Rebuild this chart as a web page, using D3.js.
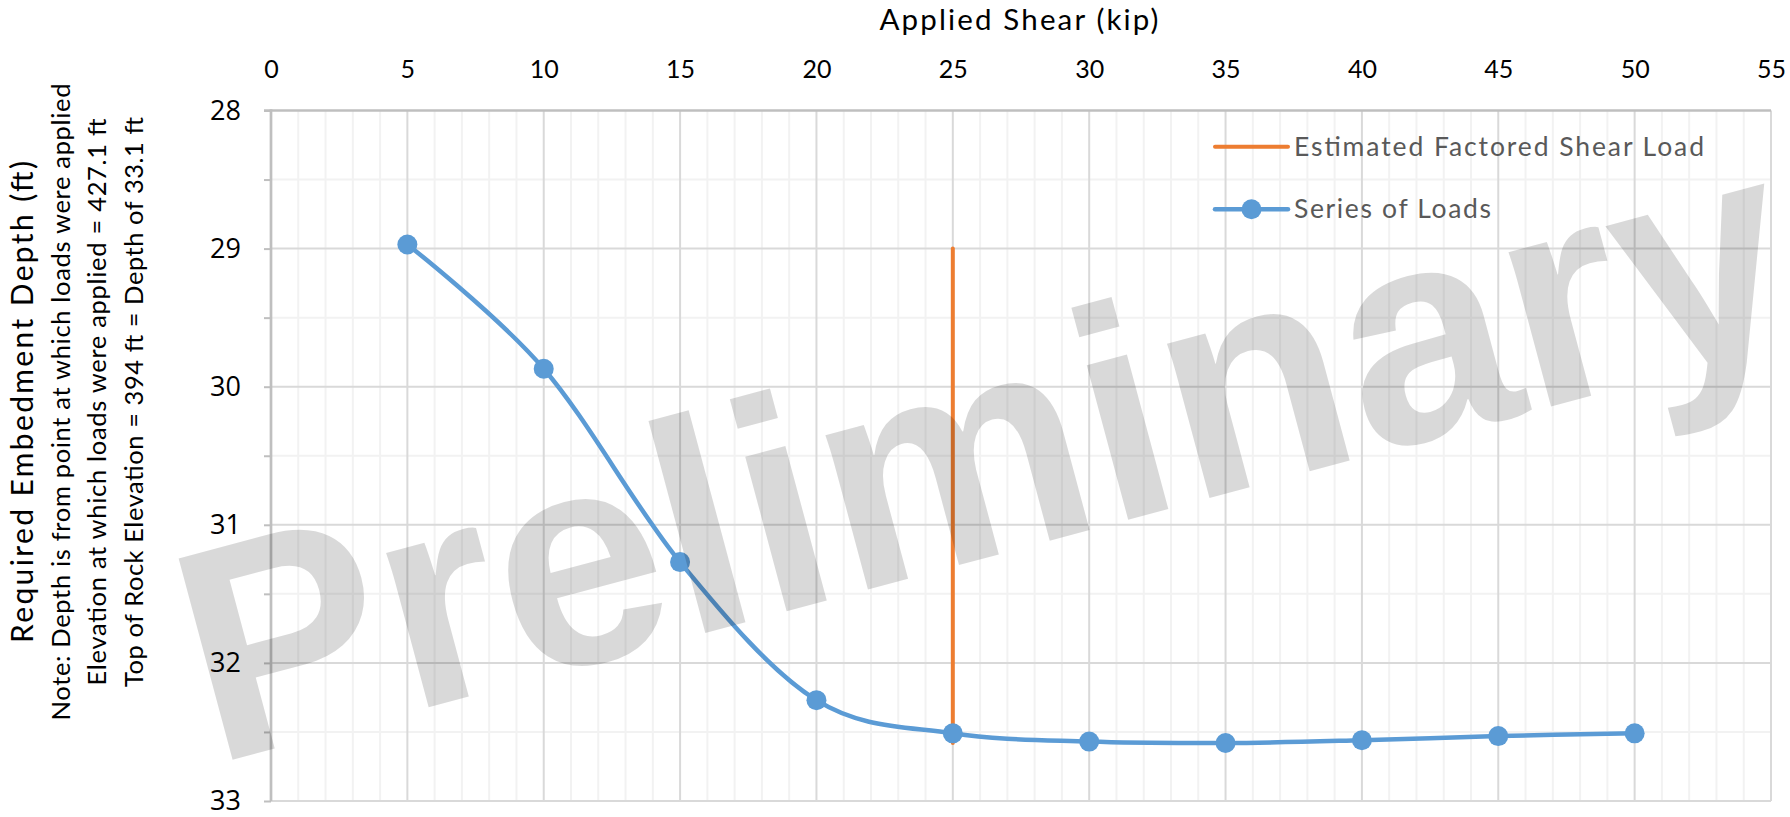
<!DOCTYPE html>
<html>
<head>
<meta charset="utf-8">
<script src="https://cdn.jsdelivr.net/npm/d3@7"></script>
<style>
  html, body { margin: 0; padding: 0; background: #fff; }
  svg { display: block; }
</style>
</head>
<body>
<svg id="chart" width="1790" height="817"></svg>
<script>
// Required embedment depth versus applied shear
const shearKip = [5, 10, 15, 20, 25, 30, 35, 40, 45, 50];
const depthFt = [28.97, 29.87, 31.27, 32.27, 32.51, 32.57, 32.58, 32.56, 32.53, 32.51];

// Estimated factored shear load (vertical reference line)
const factoredShear = [25, 25];
const factoredDepth = [29, 32.58];

const xTickValues = [0, 5, 10, 15, 20, 25, 30, 35, 40, 45, 50, 55];
const yTickValues = [28, 29, 30, 31, 32, 33];

const xTitle = "Applied Shear (kip)";
const yTitle = "Required Embedment Depth (ft)";
const yNotes = [
  "Note: Depth is from point at which loads were applied",
  "Elevation at which loads were applied = 427.1 ft",
  "Top of Rock Elevation = 394 ft = Depth of 33.1 ft"
];
const legendLabels = ["Estimated Factored Shear Load", "Series of Loads"];
const watermarkText = "Preliminary";

const W = 1790, H = 817;
const margin = { top: 110.5, right: 19, bottom: 16, left: 271 };
const blue = "#5b9bd5", orange = "#ed7d31";
const uiFont = "Lato, 'Open Sans', sans-serif";

const svg = d3.select("#chart");
svg.append("rect").attr("width", W).attr("height", H).attr("fill", "#fff");

const x = d3.scaleLinear().domain([0, 55]).range([margin.left, W - margin.right]);
const y = d3.scaleLinear().domain([28, 33]).range([margin.top, H - margin.bottom]);

// Gridlines: light minor lines first, then major lines
const grid = svg.append("g");
const xMinor = d3.range(1, 55).filter(v => v % 5 !== 0);
const yMinor = d3.range(28.5, 33, 1);
grid.selectAll(".vx-minor").data(xMinor).join("line")
  .attr("x1", d => x(d)).attr("x2", d => x(d))
  .attr("y1", y(28)).attr("y2", y(33))
  .attr("stroke", "#f2f2f2").attr("stroke-width", 2);
grid.selectAll(".hy-minor").data(yMinor).join("line")
  .attr("x1", x(0)).attr("x2", x(55))
  .attr("y1", d => y(d)).attr("y2", d => y(d))
  .attr("stroke", "#f2f2f2").attr("stroke-width", 2);
grid.selectAll(".vx-major").data(xTickValues.filter(v => v > 0)).join("line")
  .attr("x1", d => x(d)).attr("x2", d => x(d))
  .attr("y1", y(28)).attr("y2", y(33))
  .attr("stroke", "#d9d9d9").attr("stroke-width", 2);
grid.selectAll(".hy-major").data(yTickValues.filter(v => v > 28)).join("line")
  .attr("x1", x(0)).attr("x2", x(55))
  .attr("y1", d => y(d)).attr("y2", d => y(d))
  .attr("stroke", "#d9d9d9").attr("stroke-width", 2);

// X axis along the top (depth increases downward)
const xAxis = svg.append("g")
  .attr("transform", `translate(0,${y(28)})`)
  .call(d3.axisTop(x).tickValues(xTickValues).tickSize(0).tickPadding(32.5));
xAxis.select(".domain").remove();
xAxis.selectAll("text")
  .attr("font-family", uiFont).attr("font-size", 25).attr("fill", "#000");
svg.append("line")
  .attr("x1", x(0) - 7).attr("x2", x(55))
  .attr("y1", y(28)).attr("y2", y(28))
  .attr("stroke", "#bfbfbf").attr("stroke-width", 2.5);

// Y axis with minor tick marks every half foot
const yMinorAxis = svg.append("g")
  .attr("transform", `translate(${x(0)},0)`)
  .call(d3.axisLeft(y).tickValues(d3.range(28, 33.01, 0.5)).tickSize(7).tickFormat(""));
yMinorAxis.select(".domain").remove();
yMinorAxis.selectAll("line").attr("stroke", "#bfbfbf").attr("stroke-width", 2);

const yAxis = svg.append("g")
  .attr("transform", `translate(${x(0)},0)`)
  .call(d3.axisLeft(y).tickValues(yTickValues).tickFormat(d3.format("d")).tickSize(0).tickPadding(30));
yAxis.select(".domain").remove();
yAxis.selectAll("text")
  .attr("font-family", "'Open Sans', sans-serif").attr("font-size", 27).attr("fill", "#000");
svg.append("line")
  .attr("x1", x(0)).attr("x2", x(0))
  .attr("y1", y(28) - 1.25).attr("y2", y(33))
  .attr("stroke", "#bfbfbf").attr("stroke-width", 2.7);

// Axis titles
svg.append("text")
  .attr("x", 1019).attr("y", 29.5)
  .attr("text-anchor", "middle")
  .attr("font-family", uiFont).attr("font-size", 29.5).attr("fill", "#000")
  .attr("textLength", 279).attr("lengthAdjust", "spacing")
  .text(xTitle);

const yTitleCenter = 402;
svg.append("text")
  .attr("transform", `translate(33.3,${yTitleCenter}) rotate(-90)`)
  .attr("text-anchor", "middle")
  .attr("font-family", uiFont).attr("font-size", 30).attr("fill", "#000")
  .attr("textLength", 482).attr("lengthAdjust", "spacing")
  .text(yTitle);
const noteBaselines = [70, 106, 142.5];
const noteLengths = [637, 567, 570];
svg.selectAll(".note").data(yNotes).join("text")
  .attr("transform", (d, i) => `translate(${noteBaselines[i]},${yTitleCenter}) rotate(-90)`)
  .attr("text-anchor", "middle")
  .attr("font-family", uiFont).attr("font-size", 25.5).attr("fill", "#000")
  .attr("textLength", (d, i) => noteLengths[i]).attr("lengthAdjust", "spacing")
  .text(d => d);

// Estimated factored shear load
const refLine = d3.line().x(d => x(d[0])).y(d => y(d[1]));
svg.append("path")
  .datum(d3.zip(factoredShear, factoredDepth))
  .attr("d", refLine)
  .attr("fill", "none").attr("stroke", orange).attr("stroke-width", 4)
  .attr("stroke-linecap", "round");

// Series of loads, smoothed
const smooth = d3.line().x(d => x(d[0])).y(d => y(d[1])).curve(d3.curveCardinal.tension(0));
const pts = d3.zip(shearKip, depthFt);
svg.append("path")
  .datum(pts)
  .attr("d", smooth)
  .attr("fill", "none").attr("stroke", blue).attr("stroke-width", 4.5)
  .attr("stroke-linecap", "round").attr("stroke-linejoin", "round");
svg.selectAll(".pt").data(pts).join("circle")
  .attr("cx", d => x(d[0])).attr("cy", d => y(d[1])).attr("r", 10)
  .attr("fill", blue);

// Legend
const legend = svg.append("g");
const legX0 = 1215, legX1 = 1288, legTextX = 1294;
const legRows = [146.7, 209.3];
const legLengths = [410, 197];
legend.append("line")
  .attr("x1", legX0).attr("x2", legX1).attr("y1", legRows[0]).attr("y2", legRows[0])
  .attr("stroke", orange).attr("stroke-width", 4).attr("stroke-linecap", "round");
legend.append("line")
  .attr("x1", legX0).attr("x2", legX1).attr("y1", legRows[1]).attr("y2", legRows[1])
  .attr("stroke", blue).attr("stroke-width", 4.5).attr("stroke-linecap", "round");
legend.append("circle")
  .attr("cx", (legX0 + legX1) / 2).attr("cy", legRows[1]).attr("r", 10).attr("fill", blue);
legend.selectAll(".lt").data(legendLabels).join("text")
  .attr("x", legTextX).attr("y", (d, i) => legRows[i] + 9)
  .attr("font-family", uiFont).attr("font-size", 26.5).attr("fill", "#595959")
  .attr("textLength", (d, i) => legLengths[i]).attr("lengthAdjust", "spacing")
  .text(d => d);

// Translucent watermark over the plot
svg.append("text")
  .attr("transform", "translate(213,765) rotate(-15)")
  .attr("font-family", "'Liberation Sans', Arial, sans-serif")
  .attr("font-weight", "bold").attr("font-size", 303)
  .attr("fill", "#000").attr("fill-opacity", 0.15)
  .text(watermarkText);
</script>
</body>
</html>
